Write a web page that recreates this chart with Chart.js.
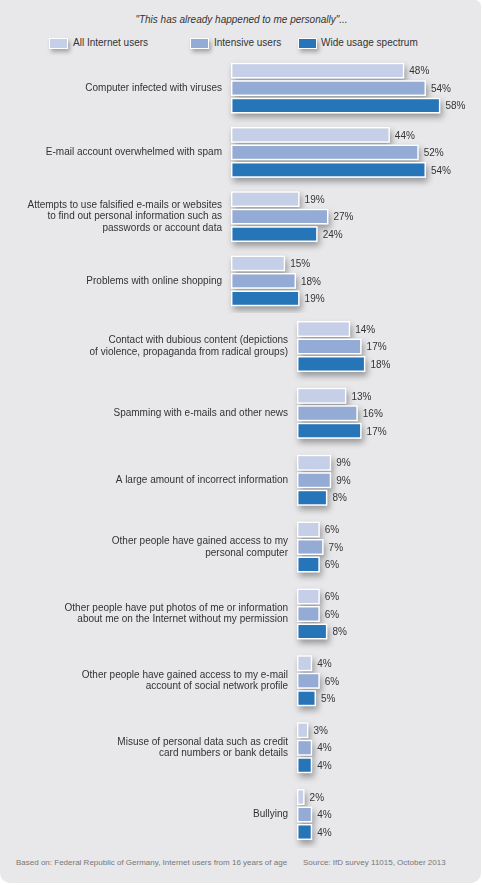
<!DOCTYPE html>
<html>
<head>
<meta charset="utf-8">
<script src="https://cdn.jsdelivr.net/npm/chart.js@4"></script>
<style>
  body { margin: 0; background: #fff; }
  #wrap { position: relative; width: 483px; height: 885px; overflow: hidden; }
  #panel { position: absolute; left: 0; top: 0; width: 481px; height: 883px;
    background: #e8e8ea; border-radius: 0 6px 10px 10px; }
  .txt { position: absolute; font-family: "Liberation Sans", Arial, sans-serif; color: #333; white-space: nowrap; }
  #title { top: 14px; left: 0; width: 483px; text-align: center; font-size: 10px; font-style: italic; }
  .lg { position: absolute; top: 38px; width: 17px; height: 9px; border: 1px solid #fff;
    box-shadow: 2px 3px 4px rgba(0,0,0,0.3); }
  .lgt { top: 37px; font-size: 10px; }
  .foot { top: 858px; font-size: 8px; color: #777; }
  canvas { position: absolute; left: 0; }
</style>
</head>
<body>
<div id="wrap">
  <div id="panel"></div>
  <div id="title" class="txt">"This has already happened to me personally"...</div>
  <div id="legend"></div>
  <canvas id="top" width="483" height="257" style="top:56px"></canvas>
  <canvas id="bottom" width="483" height="535" style="top:313px"></canvas>
  <div class="txt foot" style="left:16px">Based on: Federal Republic of Germany, Internet users from 16 years of age</div>
  <div class="txt foot" style="left:303px">Source: IfD survey 11015, October 2013</div>
</div>
<script>
// Categories (multi-line labels as arrays)
const categories = [
  "Computer infected with viruses",
  "E-mail account overwhelmed with spam",
  ["Attempts to use falsified e-mails or websites", "to find out personal information such as", "passwords or account data"],
  "Problems with online shopping",
  ["Contact with dubious content (depictions", "of violence, propaganda from radical groups)"],
  "Spamming with e-mails and other news",
  "A large amount of incorrect information",
  ["Other people have gained access to my", "personal computer"],
  ["Other people have put photos of me or information", "about me on the Internet without my permission"],
  ["Other people have gained access to my e-mail", "account of social network profile"],
  ["Misuse of personal data such as credit", "card numbers or bank details"],
  "Bullying"
];

const seriesNames = ["All Internet users", "Intensive users", "Wide usage spectrum"];
const allUsers       = [48, 44, 19, 15, 14, 13, 9, 6, 6, 4, 3, 2];
const intensiveUsers = [54, 52, 27, 18, 17, 16, 9, 7, 6, 6, 4, 4];
const wideSpectrum   = [58, 54, 24, 19, 18, 17, 8, 6, 8, 5, 4, 4];
const colors = ["#c5d0e8", "#93abd5", "#2675b9"];

const FONT = "'Liberation Sans', Arial, sans-serif";

// legend (html, the gaps in the original are uneven)
const legendPos = [[49, 73], [190, 214], [298, 321]];
const legend = document.getElementById("legend");
seriesNames.forEach((name, i) => {
  const box = document.createElement("div");
  box.className = "lg";
  box.style.left = legendPos[i][0] + "px";
  box.style.background = colors[i];
  legend.appendChild(box);
  const t = document.createElement("div");
  t.className = "txt lgt";
  t.style.left = legendPos[i][1] + "px";
  t.textContent = name;
  legend.appendChild(t);
});

// soft shadow under each bar, then % labels after
const barExtras = {
  id: "barExtras",
  beforeDatasetsDraw(chart) {
    const ctx = chart.ctx;
    ctx.save();
    ctx.shadowColor = "rgba(0,0,0,0.35)";
    ctx.shadowBlur = 6;
    ctx.shadowOffsetX = 2;
    ctx.shadowOffsetY = 4;
    ctx.fillStyle = "#e8e8ea";
    chart.data.datasets.forEach((ds, i) => {
      chart.getDatasetMeta(i).data.forEach(bar => {
        const p = bar.getProps(["x", "y", "base", "height"], true);
        ctx.fillRect(p.base, p.y - p.height / 2, p.x - p.base, p.height);
      });
    });
    ctx.restore();
  },
  afterDatasetsDraw(chart) {
    const ctx = chart.ctx;
    ctx.save();
    ctx.font = "10px " + FONT;
    ctx.fillStyle = "#333";
    ctx.textBaseline = "middle";
    ctx.textAlign = "left";
    chart.data.datasets.forEach((ds, i) => {
      chart.getDatasetMeta(i).data.forEach((bar, j) => {
        const p = bar.getProps(["x", "y"], true);
        ctx.fillText(ds.data[j] + "%", p.x + 5, p.y + 1);
      });
    });
    ctx.restore();
  }
};

function makeChart(id, from, to, axisWidth, xMax, pxPerPct, catPct) {
  const series = [allUsers, intensiveUsers, wideSpectrum];
  return new Chart(document.getElementById(id), {
    type: "bar",
    data: {
      labels: categories.slice(from, to),
      datasets: series.map((s, i) => ({
        label: seriesNames[i],
        data: s.slice(from, to),
        backgroundColor: colors[i],
        borderColor: "#ffffff",
        borderWidth: 1.5,
        borderSkipped: false,
        categoryPercentage: catPct,
        barPercentage: 0.91
      }))
    },
    options: {
      indexAxis: "y",
      responsive: false,
      animation: false,
      layout: { padding: { left: 0, right: 483 - axisWidth - xMax * pxPerPct, top: 0, bottom: 0 } },
      scales: {
        x: { display: false, min: 0, max: xMax },
        y: {
          grid: { display: false, drawTicks: false },
          border: { display: false },
          ticks: { color: "#333", padding: 9, font: { family: FONT, size: 10, lineHeight: 1.15 } },
          afterFit(scale) {
            scale.width = axisWidth;
            scale.paddingTop = 0;
            scale.paddingBottom = 0;
          }
        }
      },
      plugins: { legend: { display: false }, tooltip: { enabled: false } }
    },
    plugins: [barExtras]
  });
}

makeChart("top", 0, 4, 231, 60, 3.61, 0.815);
makeChart("bottom", 4, 12, 297, 40, 3.8, 0.785);
</script>
</body>
</html>
